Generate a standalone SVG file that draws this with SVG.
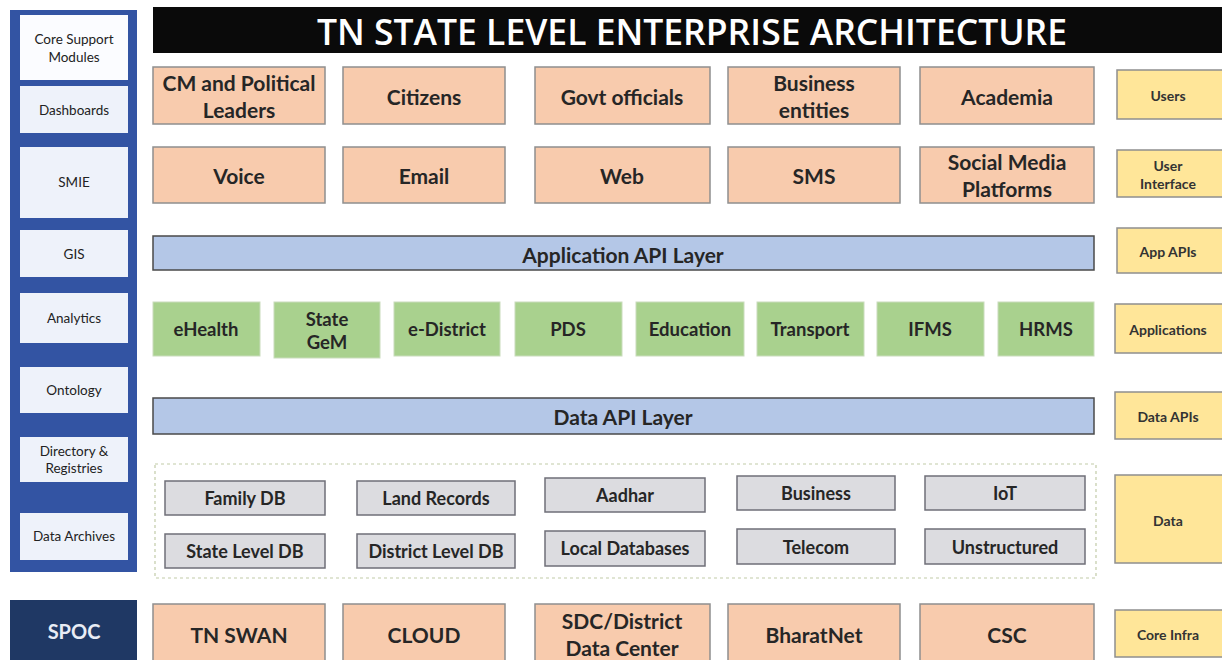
<svg xmlns="http://www.w3.org/2000/svg" width="1222" height="660" viewBox="0 0 1222 660">
  <style>
    text { font-family: Lato, "Open Sans", "Liberation Sans", sans-serif; font-weight: bold; text-anchor: middle; dominant-baseline: central; fill: #262626; }
    .peach { fill: #f8cbad; stroke: #8f8f8f; stroke-width: 1.5; }
    .green { fill: #a9d18e; stroke: #c9dcbc; stroke-width: 1; }
    .layer { fill: #b4c7e7; stroke: #4a4a4a; stroke-width: 1.5; }
    .db { fill: #dcdce0; stroke: #6f6f78; stroke-width: 1.5; }
    .tag { fill: #ffe699; stroke: #8f8f8f; stroke-width: 1.5; }
    .side { fill: #eef2fa; }
    .big { font-size: 21px; }
    .sm { font-size: 18.5px; }
    .dbt { font-size: 18px; }
    .tiny { font-size: 13.5px; font-weight: normal; fill: #222; }
    .tagt { font-size: 14px; fill: #333; }
  </style>

  <rect width="1222" height="660" fill="#ffffff"/>

  <!-- Left support module column -->
  <g id="support-modules">
    <rect x="10" y="10" width="127" height="562" fill="#3354a3"/>
    <g id="core-support"><rect class="side" x="20" y="15" width="108" height="65" style="fill:#fbfcff"/><text class="tiny" x="74" y="39">Core Support</text><text class="tiny" x="74" y="57">Modules</text></g>
    <g id="dashboards"><rect class="side" x="20" y="86" width="108" height="47"/><text class="tiny" x="74" y="110">Dashboards</text></g>
    <g id="smie"><rect class="side" x="20" y="147" width="108" height="71"/><text class="tiny" x="74" y="182">SMIE</text></g>
    <g id="gis"><rect class="side" x="20" y="230" width="108" height="47"/><text class="tiny" x="74" y="254">GIS</text></g>
    <g id="analytics"><rect class="side" x="20" y="293" width="108" height="50"/><text class="tiny" x="74" y="318">Analytics</text></g>
    <g id="ontology"><rect class="side" x="20" y="367" width="108" height="46"/><text class="tiny" x="74" y="390">Ontology</text></g>
    <g id="directory"><rect class="side" x="20" y="437" width="108" height="45"/><text class="tiny" x="74" y="451">Directory &amp;</text><text class="tiny" x="74" y="468">Registries</text></g>
    <g id="data-archives"><rect class="side" x="20" y="513" width="108" height="47"/><text class="tiny" x="74" y="536">Data Archives</text></g>
  </g>
  <g id="spoc">
    <rect x="10" y="600" width="127" height="60" fill="#1f3864"/>
    <text x="74" y="631" style="font-size:20px;fill:#e8ecf5">SPOC</text>
  </g>

  <!-- Title banner -->
  <g id="title">
    <rect x="153" y="7" width="1069" height="46" fill="#0a0a0a"/>
    <text x="692" y="31" style="font-size:35.5px;fill:#ffffff;font-family:'Open Sans','Liberation Sans',sans-serif;font-weight:600">TN STATE LEVEL ENTERPRISE ARCHITECTURE</text>
  </g>

  <!-- Users -->
  <g id="cm"><rect class="peach" x="153" y="67" width="172" height="57"/><text class="big" x="239" y="82">CM and Political</text><text class="big" x="239" y="109">Leaders</text></g>
  <g id="citizens"><rect class="peach" x="343" y="67" width="162" height="57"/><text class="big" x="424" y="96">Citizens</text></g>
  <g id="govt"><rect class="peach" x="535" y="67" width="175" height="57"/><text class="big" x="622" y="96">Govt officials</text></g>
  <g id="business-entities"><rect class="peach" x="728" y="67" width="172" height="57"/><text class="big" x="814" y="82">Business</text><text class="big" x="814" y="109">entities</text></g>
  <g id="academia"><rect class="peach" x="920" y="67" width="174" height="57"/><text class="big" x="1007" y="96">Academia</text></g>

  <!-- Interfaces -->
  <g id="voice"><rect class="peach" x="153" y="147" width="172" height="56"/><text class="big" x="239" y="175">Voice</text></g>
  <g id="email"><rect class="peach" x="343" y="147" width="162" height="56"/><text class="big" x="424" y="175">Email</text></g>
  <g id="web"><rect class="peach" x="535" y="147" width="175" height="56"/><text class="big" x="622" y="175">Web</text></g>
  <g id="sms"><rect class="peach" x="728" y="147" width="172" height="56"/><text class="big" x="814" y="175">SMS</text></g>
  <g id="social"><rect class="peach" x="920" y="147" width="174" height="56"/><text class="big" x="1007" y="161">Social Media</text><text class="big" x="1007" y="188">Platforms</text></g>

  <!-- Application API layer -->
  <g id="app-api"><rect class="layer" x="153" y="236" width="941" height="34"/><text class="big" x="623" y="254">Application API Layer</text></g>

  <!-- Applications -->
  <g id="ehealth"><rect class="green" x="153" y="302" width="107" height="54"/><text class="sm" x="206" y="329">eHealth</text></g>
  <g id="gem"><rect class="green" x="274" y="302" width="106" height="56"/><text class="sm" x="327" y="319">State</text><text class="sm" x="327" y="342">GeM</text></g>
  <g id="edistrict"><rect class="green" x="394" y="302" width="106" height="54"/><text class="sm" x="447" y="329">e-District</text></g>
  <g id="pds"><rect class="green" x="515" y="302" width="107" height="54"/><text class="sm" x="568" y="329">PDS</text></g>
  <g id="education"><rect class="green" x="636" y="302" width="108" height="54"/><text class="sm" x="690" y="329">Education</text></g>
  <g id="transport"><rect class="green" x="757" y="302" width="107" height="54"/><text class="sm" x="810" y="329">Transport</text></g>
  <g id="ifms"><rect class="green" x="877" y="302" width="107" height="54"/><text class="sm" x="930" y="329">IFMS</text></g>
  <g id="hrms"><rect class="green" x="998" y="302" width="96" height="54"/><text class="sm" x="1046" y="329">HRMS</text></g>

  <!-- Data API layer -->
  <g id="data-api"><rect class="layer" x="153" y="398" width="941" height="36"/><text class="big" x="623" y="416">Data API Layer</text></g>

  <!-- Data stores -->
  <g id="data-stores">
    <rect x="155" y="464" width="941" height="114" fill="none" stroke="#c2cba8" stroke-width="1.2" stroke-dasharray="3 3"/>
    <g id="family"><rect class="db" x="165" y="481" width="160" height="34"/><text class="dbt" x="245" y="498">Family DB</text></g>
    <g id="land"><rect class="db" x="357" y="481" width="158" height="34"/><text class="dbt" x="436" y="498">Land Records</text></g>
    <g id="aadhar"><rect class="db" x="545" y="478" width="160" height="34"/><text class="dbt" x="625" y="495">Aadhar</text></g>
    <g id="business"><rect class="db" x="737" y="476" width="158" height="34"/><text class="dbt" x="816" y="493">Business</text></g>
    <g id="iot"><rect class="db" x="925" y="476" width="160" height="34"/><text class="dbt" x="1005" y="493">IoT</text></g>
    <g id="state-db"><rect class="db" x="165" y="534" width="160" height="34"/><text class="dbt" x="245" y="551">State Level DB</text></g>
    <g id="district-db"><rect class="db" x="357" y="534" width="158" height="34"/><text class="dbt" x="436" y="551">District Level DB</text></g>
    <g id="local-db"><rect class="db" x="545" y="531" width="160" height="35"/><text class="dbt" x="625" y="548">Local Databases</text></g>
    <g id="telecom"><rect class="db" x="737" y="529" width="158" height="35"/><text class="dbt" x="816" y="547">Telecom</text></g>
    <g id="unstructured"><rect class="db" x="925" y="529" width="160" height="35"/><text class="dbt" x="1005" y="547">Unstructured</text></g>
  </g>

  <!-- Core infrastructure -->
  <g id="swan"><rect class="peach" x="153" y="604" width="172" height="60"/><text class="big" x="239" y="634">TN SWAN</text></g>
  <g id="cloud"><rect class="peach" x="343" y="604" width="162" height="60"/><text class="big" x="424" y="634">CLOUD</text></g>
  <g id="sdc"><rect class="peach" x="535" y="604" width="175" height="60"/><text class="big" x="622" y="620">SDC/District</text><text class="big" x="622" y="647">Data Center</text></g>
  <g id="bharatnet"><rect class="peach" x="728" y="604" width="172" height="60"/><text class="big" x="814" y="634">BharatNet</text></g>
  <g id="csc"><rect class="peach" x="920" y="604" width="174" height="60"/><text class="big" x="1007" y="634">CSC</text></g>

  <!-- Right layer tags -->
  <g id="tag-users"><rect class="tag" x="1117" y="70" width="110" height="49"/><text class="tagt" x="1168" y="95">Users</text></g>
  <g id="tag-ui"><rect class="tag" x="1117" y="150" width="110" height="47"/><text class="tagt" x="1168" y="165">User</text><text class="tagt" x="1168" y="183">Interface</text></g>
  <g id="tag-appapi"><rect class="tag" x="1117" y="228" width="110" height="45"/><text class="tagt" x="1168" y="251">App APIs</text></g>
  <g id="tag-apps"><rect class="tag" x="1115" y="304" width="112" height="49"/><text class="tagt" x="1168" y="329">Applications</text></g>
  <g id="tag-dataapi"><rect class="tag" x="1115" y="392" width="112" height="47"/><text class="tagt" x="1168" y="416">Data APIs</text></g>
  <g id="tag-data"><rect class="tag" x="1115" y="475" width="112" height="88"/><text class="tagt" x="1168" y="520">Data</text></g>
  <g id="tag-infra"><rect class="tag" x="1115" y="610" width="112" height="47"/><text class="tagt" x="1168" y="634">Core Infra</text></g>
</svg>
